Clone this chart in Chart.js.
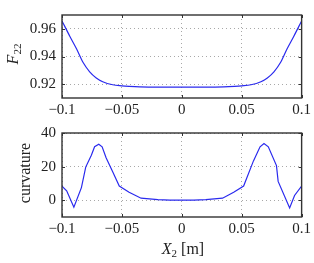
<!DOCTYPE html>
<html>
<head>
<meta charset="utf-8">
<script src="https://cdn.jsdelivr.net/npm/chart.js@4/dist/chart.umd.min.js"></script>
<style>
  html, body { margin: 0; padding: 0; background: #fff; }
  #wrap { position: relative; width: 314px; height: 263px; }
  #c1 { position: absolute; left: 0; top: 0; }
  #c2 { position: absolute; left: 0; top: 118px; }
</style>
</head>
<body>
<div id="wrap">
  <canvas id="c1" width="314" height="118" style="width:314px;height:118px"></canvas>
  <canvas id="c2" width="314" height="145" style="width:314px;height:145px"></canvas>
</div>
<script>
// ---- data ----
const xTicks = [-0.1, -0.05, 0, 0.05, 0.1];
const xTickLabels = ['\u22120.1', '\u22120.05', '0', '0.05', '0.1'];
const fTicks = [0.92, 0.94, 0.96];
const fTickLabels = ['0.92', '0.94', '0.96'];
const cTicks = [0, 20, 40];
const cTickLabels = ['0', '20', '40'];

const fX = [-0.1, -0.0934, -0.0879, -0.0825, -0.0769, -0.0714, -0.066, -0.0577, -0.05, -0.044, -0.035, -0.02, 0,
            0.02, 0.035, 0.044, 0.05, 0.0577, 0.066, 0.0714, 0.0769, 0.0825, 0.0879, 0.0934, 0.1];
const fY = [0.9657, 0.9545, 0.9456, 0.9358, 0.9289, 0.9245, 0.9218, 0.9196, 0.9188, 0.9184, 0.9180, 0.9178, 0.9178,
            0.9178, 0.9180, 0.9184, 0.9188, 0.9196, 0.9218, 0.9245, 0.9289, 0.9358, 0.9456, 0.9545, 0.9657];

const cX = [-0.1, -0.0961, -0.0901, -0.0838, -0.0802, -0.0755, -0.0728, -0.0693, -0.0665, -0.0632, -0.0577, -0.0522, -0.044, -0.034, -0.02, -0.01, 0,
            0.01, 0.02, 0.034, 0.0433, 0.0516, 0.0598, 0.0653, 0.0686, 0.0722, 0.079, 0.0804, 0.09, 0.0941, 0.1];
const cY = [8.4, 5.6, -4.2, 7.5, 19.7, 26.8, 31.8, 33.3, 31.8, 25.3, 16.9, 8.4, 4.7, 1.2, 0.4, 0, 0,
            0, 0.3, 1.2, 4.7, 8.4, 23.4, 31.8, 33.7, 31.8, 20.6, 11.2, -4.6, 2.8, 8.4];

const topTitle = { main: 'F', sub: '22' };
const botTitle = 'curvature';
const xTitle = { main: 'X', sub: '2', rest: ' [m]' };

// ---- styling ----
const FONT = '"Liberation Serif", "DejaVu Serif", serif';
const TICK_SIZE = 15;
const LINE_COLOR = '#2a2aee';
const GRID_COLOR = '#a8a8a8';

function pts(xs, ys) { return xs.map((x, i) => ({ x: x, y: ys[i] })); }

const framePlugin = {
  id: 'frame',
  afterDraw(chart, args, opts) {
    const ctx = chart.ctx, a = chart.chartArea;
    ctx.save();
    ctx.strokeStyle = '#333';
    ctx.lineWidth = 1;
    const xs = chart.scales.x, ys = chart.scales.y;
    ctx.beginPath();
    xs.ticks.forEach(t => {
      const p = Math.round(xs.getPixelForValue(t.value)) + 0.5;
      ctx.moveTo(p, a.bottom); ctx.lineTo(p, a.bottom - 3);
      ctx.moveTo(p, a.top); ctx.lineTo(p, a.top + 3);
    });
    ys.ticks.forEach(t => {
      const p = Math.round(ys.getPixelForValue(t.value)) + 0.5;
      ctx.moveTo(a.left, p); ctx.lineTo(a.left + 3, p);
      ctx.moveTo(a.right, p); ctx.lineTo(a.right - 3, p);
    });
    ctx.stroke();
    ctx.lineWidth = 1.4;
    ctx.strokeRect(a.left, a.top, a.right - a.left, a.bottom - a.top);
    ctx.fillStyle = '#222';
    ctx.textBaseline = 'middle';
    if (opts.yTitle) {
      const t = opts.yTitle;
      ctx.save();
      ctx.translate(t.x, t.y);
      ctx.rotate(-Math.PI / 2);
      if (t.sub) {
        ctx.font = 'italic 16px ' + FONT;
        const w1 = ctx.measureText(t.main).width;
        ctx.font = '11px ' + FONT;
        const w2 = ctx.measureText(t.sub).width;
        const x0 = -(w1 + w2) / 2;
        ctx.font = 'italic 16px ' + FONT;
        ctx.textAlign = 'left';
        ctx.fillText(t.main, x0, 0);
        ctx.font = '11px ' + FONT;
        ctx.fillText(t.sub, x0 + w1, 4);
      } else {
        ctx.font = '16px ' + FONT;
        ctx.textAlign = 'center';
        ctx.fillText(t.text, 0, 0);
      }
      ctx.restore();
    }
    if (opts.xTitle) {
      const t = opts.xTitle;
      ctx.font = 'italic 16px ' + FONT;
      const w1 = ctx.measureText(t.main).width;
      ctx.font = '11px ' + FONT;
      const w2 = ctx.measureText(t.sub).width;
      ctx.font = '16px ' + FONT;
      const w3 = ctx.measureText(t.rest).width;
      let x0 = t.x - (w1 + w2 + w3) / 2;
      ctx.textAlign = 'left';
      ctx.font = 'italic 16px ' + FONT;
      ctx.fillText(t.main, x0, t.y);
      ctx.font = '11px ' + FONT;
      ctx.fillText(t.sub, x0 + w1, t.y + 4);
      ctx.font = '16px ' + FONT;
      ctx.fillText(t.rest, x0 + w1 + w2, t.y);
    }
    ctx.restore();
  }
};

function makeChart(id, data, yMin, yMax, yTickVals, yTickLabels, xAxisH, padTop, frameOpts, smooth) {
  return new Chart(document.getElementById(id), {
    type: 'line',
    data: {
      datasets: [{
        data: data,
        borderColor: LINE_COLOR,
        borderWidth: 1.2,
        pointRadius: 0,
        fill: false,
        tension: smooth ? 0.4 : 0,
        cubicInterpolationMode: smooth ? 'monotone' : 'default'
      }]
    },
    plugins: [framePlugin],
    options: {
      responsive: false,
      animation: false,
      events: [],
      layout: { padding: { left: 0, right: 10, top: padTop, bottom: 0 } },
      plugins: {
        legend: { display: false },
        tooltip: { enabled: false },
        frame: frameOpts
      },
      scales: {
        x: {
          type: 'linear',
          min: -0.1, max: 0.1,
          afterBuildTicks: s => { s.ticks = xTicks.map(v => ({ value: v })); },
          afterFit: s => { s.height = xAxisH; },
          ticks: {
            callback: (v, i) => xTickLabels[i],
            font: { family: FONT, size: TICK_SIZE },
            color: '#222',
            padding: 3,
            maxRotation: 0,
            autoSkip: false
          },
          grid: { color: GRID_COLOR, lineWidth: 1, drawTicks: false },
          border: { display: false, dash: [1, 3] }
        },
        y: {
          type: 'linear',
          min: yMin, max: yMax,
          afterBuildTicks: s => { s.ticks = yTickVals.map(v => ({ value: v })); },
          afterFit: s => { s.width = 62; },
          ticks: {
            callback: (v, i) => yTickLabels[i],
            font: { family: FONT, size: TICK_SIZE },
            color: '#222',
            padding: 6,
            autoSkip: false
          },
          grid: { color: GRID_COLOR, lineWidth: 1, drawTicks: false },
          border: { display: false, dash: [1, 3] }
        }
      }
    }
  });
}

makeChart('c1', pts(fX, fY), 0.91, 0.97, fTicks, fTickLabels, 20, 9,
  { yTitle: { main: topTitle.main, sub: topTitle.sub, x: 14, y: 54 } }, true);
makeChart('c2', pts(cX, cY), -10, 40, cTicks, cTickLabels, 46, 10,
  { yTitle: { text: botTitle, x: 26, y: 55 }, xTitle: { main: xTitle.main, sub: xTitle.sub, rest: xTitle.rest, x: 183, y: 132 } }, false);
</script>
</body>
</html>
